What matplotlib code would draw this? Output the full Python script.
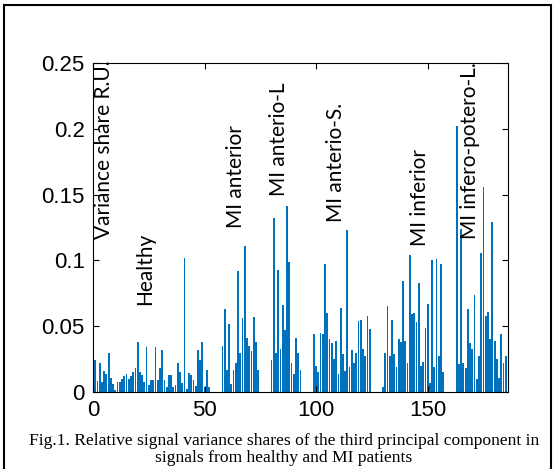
import matplotlib

matplotlib.use("Agg")
import matplotlib.pyplot as plt
from matplotlib.patches import Rectangle

OUTPUT_PATH = "out.png"
BAR_COLOR = "#0072BD"
GAP_LEN = 5  # empty bar slots between patient groups

# relative variance shares per signal, group by group
healthy = [
    0.024, 0.008, 0.022, 0.0076, 0.016, 0.014, 0.030, 0.011, 0.006, 0.0015,
    0.0076, 0.0076, 0.010, 0.012, 0.014, 0.010, 0.012, 0.015, 0.018, 0.038,
    0.015, 0.013, 0.0076, 0.034, 0.005, 0.009, 0.009, 0.034, 0.009, 0.018,
    0.032, 0.009, 0.0035, 0.013, 0.013, 0.004, 0.005, 0.022, 0.015, 0.0066,
    0.102, 0.0025, 0.0144, 0.013, 0.009, 0.0045, 0.032, 0.024, 0.038, 0.004,
    0.017, 0.0035,
]
mi_anterior = [
    0.035, 0.063, 0.017, 0.052, 0.006, 0.017, 0.022, 0.092, 0.030, 0.056,
    0.111, 0.041, 0.035, 0.031, 0.057, 0.038, 0.017,
]
mi_anterio_l = [
    0.024, 0.132, 0.030, 0.093, 0.033, 0.066, 0.047, 0.141, 0.099, 0.022,
    0.014, 0.041, 0.030, 0.017,
]
mi_anterio_s = [
    0.044, 0.020, 0.015, 0.045, 0.044, 0.097, 0.060, 0.040, 0.037, 0.025,
    0.039, 0.014, 0.064, 0.029, 0.016, 0.123, 0.019, 0.032, 0.022, 0.030,
    0.054, 0.055, 0.033, 0.027, 0.058, 0.048,
]
mi_inferior = [
    0.004, 0.030, 0.065, 0.027, 0.055, 0.029, 0.019, 0.040, 0.038, 0.084,
    0.039, 0.022, 0.104, 0.059, 0.060, 0.053, 0.083, 0.020, 0.023, 0.049,
    0.067, 0.007, 0.100, 0.019, 0.101, 0.027, 0.097, 0.015,
]
mi_infero_postero_l = [
    0.202, 0.021, 0.124, 0.022, 0.018, 0.063, 0.037, 0.033, 0.074, 0.010,
    0.027, 0.106, 0.156, 0.058, 0.061, 0.040, 0.129, 0.039, 0.025, 0.011,
    0.044, 0.022, 0.027,
]

groups = [healthy, mi_anterior, mi_anterio_l, mi_anterio_s, mi_inferior, mi_infero_postero_l]

# (text, x, y) for the rotated labels, in data units
labels = [
    ("Variance share R.U.", 5, 0.116),
    ("Healthy", 23.5, 0.066),
    ("MI anterior", 64, 0.125),
    ("MI anterio-L", 83.5, 0.149),
    ("MI anterio-S.", 109, 0.129),
    ("MI inferior", 146.5, 0.111),
    ("MI infero-potero-L.", 169, 0.116),
]

y_ticks = [0, 0.05, 0.1, 0.15, 0.2, 0.25]
y_tick_labels = ["0", "0.05", "0.1", "0.15", "0.2", "0.25"]
x_ticks = [0, 50, 100, 150]
caption = ("Fig.1. Relative signal variance shares of the third principal component in\n"
           "signals from healthy and MI patients")


def build_series() -> list[float]:
    values = []
    for i, group in enumerate(groups):
        if i > 0:
            values.extend([0.0] * GAP_LEN)
        values.extend(group)
    return values


def main() -> None:
    values = build_series()
    idx = list(range(1, len(values) + 1))

    fig = plt.figure(figsize=(5.59, 4.69), dpi=100)
    ax = fig.add_axes([93 / 559, 1 - 392 / 469, 415 / 559, 329 / 469])
    ax.bar(idx, values, width=0.8, color=BAR_COLOR, linewidth=0)

    ax.set_xlim(0, len(values) + 1)
    ax.set_ylim(0, 0.25)
    ax.set_xticks(x_ticks)
    ax.set_yticks(y_ticks)
    ax.set_yticklabels(y_tick_labels)
    ax.tick_params(direction="in", top=True, right=True, length=4, width=0.8,
                   labelsize=16, pad=6)
    for lab in ax.get_xticklabels() + ax.get_yticklabels():
        lab.set_fontfamily("Liberation Sans")
    for spine in ax.spines.values():
        spine.set_linewidth(0.8)

    for text, x, y in labels:
        ax.text(x, y, text, rotation=90, ha="center", va="bottom",
                fontsize=15, family="Lato")

    fig.text(0.508, 1 - 433 / 469, caption, ha="center", va="top",
             fontsize=12.6, family="Liberation Serif", linespacing=1.05)

    # outer frame of the page figure, bottom edge falls outside the crop
    fig.patches.append(Rectangle((4 / 559, -0.05), 547 / 559, 1.05 - 5 / 469,
                                 transform=fig.transFigure, fill=False,
                                 edgecolor="black", linewidth=1.5))

    fig.savefig(OUTPUT_PATH, dpi=100)
    plt.close(fig)


if __name__ == "__main__":
    main()
